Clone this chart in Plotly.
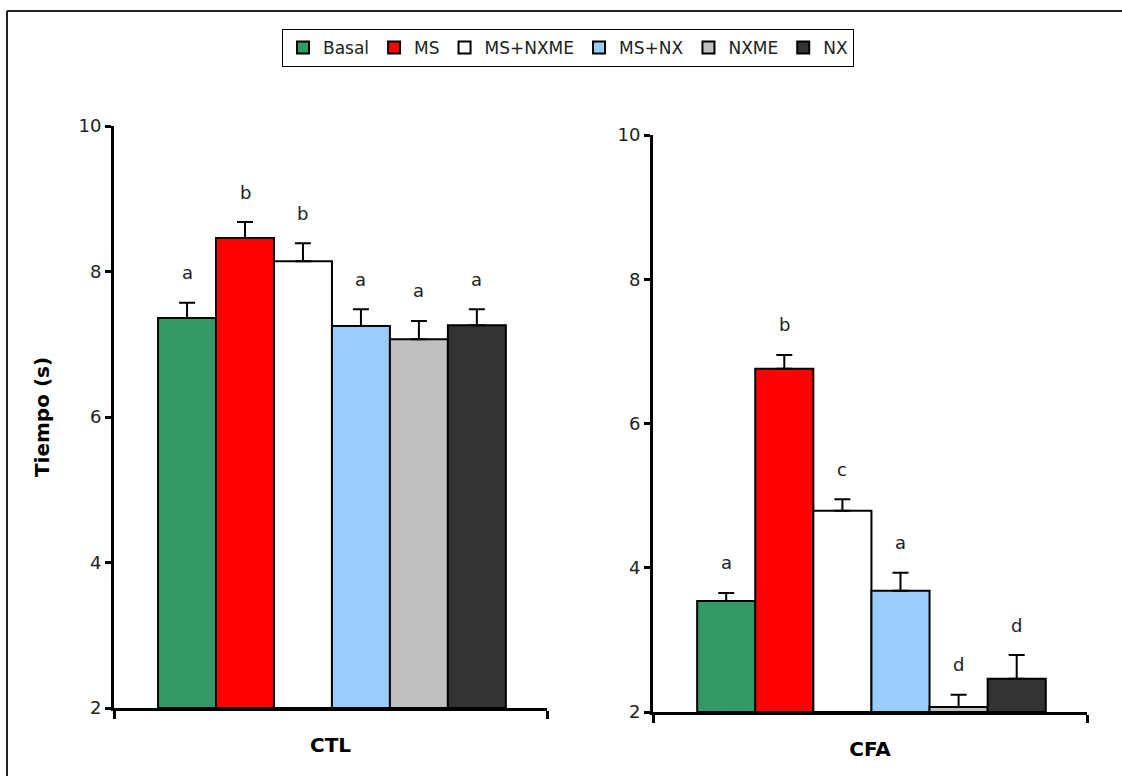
import plotly.graph_objects as go

# Treatment groups and their bar colours
groups = ["Basal", "MS", "MS+NXME", "MS+NX", "NXME", "NX"]
colors = ["#339966", "#FF0000", "#FFFFFF", "#99CCFF", "#C0C0C0", "#333333"]

# CTL panel: mean time (s), standard error, significance letters
ctl_mean = [7.36, 8.46, 8.14, 7.25, 7.07, 7.26]
ctl_err = [0.21, 0.22, 0.25, 0.23, 0.25, 0.22]
ctl_letters = ["a", "b", "b", "a", "a", "a"]

# CFA panel
cfa_mean = [3.54, 6.76, 4.79, 3.68, 2.07, 2.46]
cfa_err = [0.11, 0.19, 0.16, 0.25, 0.17, 0.33]
cfa_letters = ["a", "b", "c", "a", "d", "d"]

y_ticks = [2, 4, 6, 8, 10]
panel_names = ["CTL", "CFA"]

W, H = 1122, 776
FONT = "DejaVu Sans"
TXT = "#222222"

fig = go.Figure()

panels = [
    (ctl_mean, ctl_err, ctl_letters, "x", "y"),
    (cfa_mean, cfa_err, cfa_letters, "x2", "y2"),
]

for p, (means, errs, letters, xa, ya) in enumerate(panels):
    for i, g in enumerate(groups):
        fig.add_trace(go.Bar(
            x=[i], y=[means[i] - 2], base=[2],
            width=1.0,
            name=g, legendgroup=g, showlegend=(p == 0),
            marker=dict(color=colors[i], line=dict(color="black", width=2)),
            error_y=dict(type="data", symmetric=False, array=[errs[i]],
                         arrayminus=[0], color="black", thickness=2, width=8),
            xaxis=xa, yaxis=ya,
            hovertemplate=f"{panel_names[p]} {g}: %{{y:.2f}} s<extra></extra>",
        ))
        fig.add_annotation(
            x=i, y=means[i] + errs[i], xref=xa, yref=ya,
            text=letters[i], showarrow=False, yanchor="middle",
            yshift=30, font=dict(family=FONT, size=18, color=TXT),
        )


def px_x(a, b):
    return [a / W, b / W]


def px_y(top, bottom):
    return [(H - bottom) / H, (H - top) / H]


x_range = [-1.26, 6.21]
common_x = dict(
    range=x_range, tickmode="array", tickvals=x_range, ticks="outside",
    ticklen=8, tickwidth=3, tickcolor="black", showticklabels=False,
    showline=True, linecolor="black", linewidth=3, showgrid=False,
    zeroline=False, fixedrange=True, automargin=False,
)
common_y = dict(
    range=[2, 10], tickvals=y_ticks, ticks="outside", ticklen=6,
    tickwidth=3, tickcolor="black", showline=True, linecolor="black",
    linewidth=3, showgrid=False, zeroline=False, automargin=False,
    tickfont=dict(family=FONT, size=18, color=TXT),
)
title_font = dict(family=FONT, size=20, color="black")

fig.update_layout(
    width=W, height=H,
    margin=dict(l=0, r=0, t=0, b=0, autoexpand=False),
    paper_bgcolor="white", plot_bgcolor="white",
    barmode="overlay",
    xaxis=dict(domain=px_x(114, 547), anchor="y",
               title=dict(text="<b>CTL</b>", standoff=20, font=title_font),
               **common_x),
    yaxis=dict(domain=px_y(126, 708), anchor="x",
               title=dict(text="<b>Tiempo (s)</b>", standoff=24,
                          font=title_font),
               **common_y),
    xaxis2=dict(domain=px_x(653, 1087), anchor="y2",
                title=dict(text="<b>CFA</b>", standoff=20, font=title_font),
                **common_x),
    yaxis2=dict(domain=px_y(135, 712), anchor="x2", **common_y),
    legend=dict(
        orientation="h", x=282 / W, y=1 - 29 / H, xanchor="left",
        yanchor="top", bordercolor="black", borderwidth=1,
        bgcolor="white", font=dict(family=FONT, size=17, color=TXT),
        itemwidth=30, traceorder="normal",
    ),
    # frame around the figure (top and left edges)
    shapes=[
        dict(type="line", xref="paper", yref="paper",
             x0=7 / W, x1=1.0, y0=1 - 11 / H, y1=1 - 11 / H,
             line=dict(color="#222222", width=2)),
        dict(type="line", xref="paper", yref="paper",
             x0=7 / W, x1=7 / W, y0=0.0, y1=1 - 11 / H,
             line=dict(color="#222222", width=2)),
    ],
)

fig.write_html("out.html")
